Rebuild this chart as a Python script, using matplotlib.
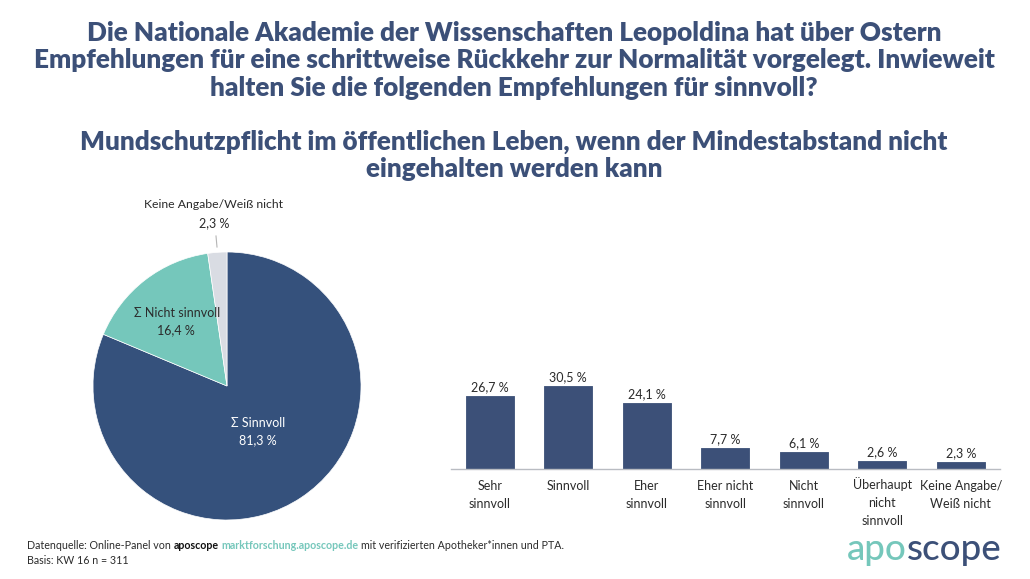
import matplotlib
matplotlib.use('Agg')
import matplotlib.pyplot as plt

plt.rcParams['font.family'] = ['Lato', 'DejaVu Sans']

NAVY = '#3c5078'
PIE_NAVY = '#35517c'
TEAL = '#75c7bb'
GREY = '#d9dce3'
DARK = '#2b2b2b'

title_lines = ['Die Nationale Akademie der Wissenschaften Leopoldina hat über Ostern',
               'Empfehlungen für eine schrittweise Rückkehr zur Normalität vorgelegt. Inwieweit',
               'halten Sie die folgenden Empfehlungen für sinnvoll?']
subtitle_lines = ['Mundschutzpflicht im öffentlichen Leben, wenn der Mindestabstand nicht',
                  'eingehalten werden kann']

pie_values = [81.3, 16.4, 2.3]
pie_colors = [PIE_NAVY, TEAL, GREY]

bar_labels = ['Sehr\nsinnvoll', 'Sinnvoll', 'Eher\nsinnvoll', 'Eher nicht\nsinnvoll',
              'Nicht\nsinnvoll', 'Überhaupt\nnicht\nsinnvoll', 'Keine Angabe/\nWeiß nicht']
bar_values = [26.7, 30.5, 24.1, 7.7, 6.1, 2.6, 2.3]

W, H = 1030, 579
fig = plt.figure(figsize=(W / 100, H / 100), dpi=100)


def px(x, y):
    return x / W, 1 - y / H


def chain(x, y, parts, size):
    # draw text pieces one after another on the same baseline
    r = fig.canvas.get_renderer()
    for s, color, weight in parts:
        t = fig.text(*px(x, y), s, color=color, fontweight=weight, fontsize=size, va='baseline', ha='left')
        x = t.get_window_extent(r).x1 + 2.5


for s, y in zip(title_lines, [33, 60, 88]):
    fig.text(*px(514, y), s, ha='center', va='center', fontsize=18.8, fontweight='heavy', color=NAVY)
for s, y in zip(subtitle_lines, [142, 169]):
    fig.text(*px(514, y), s, ha='center', va='center', fontsize=18.75, fontweight='heavy', color=NAVY)

# pie
ax = fig.add_axes([(227 - 134) / W, 1 - (386 + 134) / H, 268 / W, 268 / H])
ax.pie(pie_values, colors=pie_colors, startangle=90, counterclock=False, radius=1,
       wedgeprops={'edgecolor': 'white', 'linewidth': 0.5})
ax.set_xlim(-1, 1)
ax.set_ylim(-1, 1)
fig.text(*px(258, 423), 'Σ Sinnvoll', ha='center', va='center', fontsize=9, color='white')
fig.text(*px(258, 440), '81,3 %', ha='center', va='center', fontsize=9, color='white')
fig.text(*px(177, 313), 'Σ Nicht sinnvoll', ha='center', va='center', fontsize=9, color=DARK)
fig.text(*px(176, 330), '16,4 %', ha='center', va='center', fontsize=9, color=DARK)
fig.text(*px(214, 205), 'Keine Angabe/Weiß nicht', ha='center', va='center', fontsize=8.8, color=DARK)
fig.text(*px(214, 223), '2,3 %', ha='center', va='center', fontsize=9, color=DARK)
fig.add_artist(plt.Line2D([216 / W, 217 / W], [1 - 236 / H, 1 - 247 / H], color='#b5b5b5', lw=0.8))

# bars
ax2 = fig.add_axes([450.5 / W, 1 - 468.5 / H, 549.5 / W, 95.2 / H])
xs = list(range(len(bar_values)))
ax2.bar(xs, bar_values, width=0.61, color=NAVY, edgecolor=NAVY, linewidth=0.6, joinstyle='round')
ax2.set_xlim(-0.5, 6.5)
ax2.set_ylim(0, 35)
ax2.set_yticks([])
ax2.set_xticks(xs, bar_labels, fontsize=9, color=DARK, linespacing=1.62)
ax2.tick_params(axis='x', length=0, pad=8)
ax2.get_xticklabels()[5].set_y(0.03)
for sp in ['top', 'left', 'right']:
    ax2.spines[sp].set_visible(False)
ax2.spines['bottom'].set_color('#b9bcc2')
ax2.spines['bottom'].set_linewidth(1)
ax2.patch.set_alpha(0)
for x, v in zip(xs, bar_values):
    ax2.annotate(f'{v:.1f} %'.replace('.', ','), (x, v), xytext=(0, 2), textcoords='offset points',
                 ha='center', va='bottom', fontsize=9, color=DARK)

# footer
chain(27, 549, [('Datenquelle: Online-Panel von', DARK, 'normal'),
                ('aposcope', '#111111', 'bold'),
                ('marktforschung.aposcope.de', TEAL, 'bold'),
                ('mit verifizierten Apotheker*innen und PTA.', DARK, 'normal')], 7.7)
fig.text(*px(27, 564), 'Basis: KW 16 n = 311', fontsize=7.7, color=DARK, va='baseline')

# logo, "scope" sits flush right and "apo" ends where it starts
r = fig.canvas.get_renderer()
scope = fig.text(*px(1002, 560), 'scope', fontsize=26.5, fontweight='medium', color=NAVY, ha='right', va='baseline')
left = scope.get_window_extent(r).x0
fig.text(*px(left, 560), 'apo', fontsize=26.5, fontweight='medium', color=TEAL, ha='right', va='baseline')

fig.savefig('out.png', dpi=100)
